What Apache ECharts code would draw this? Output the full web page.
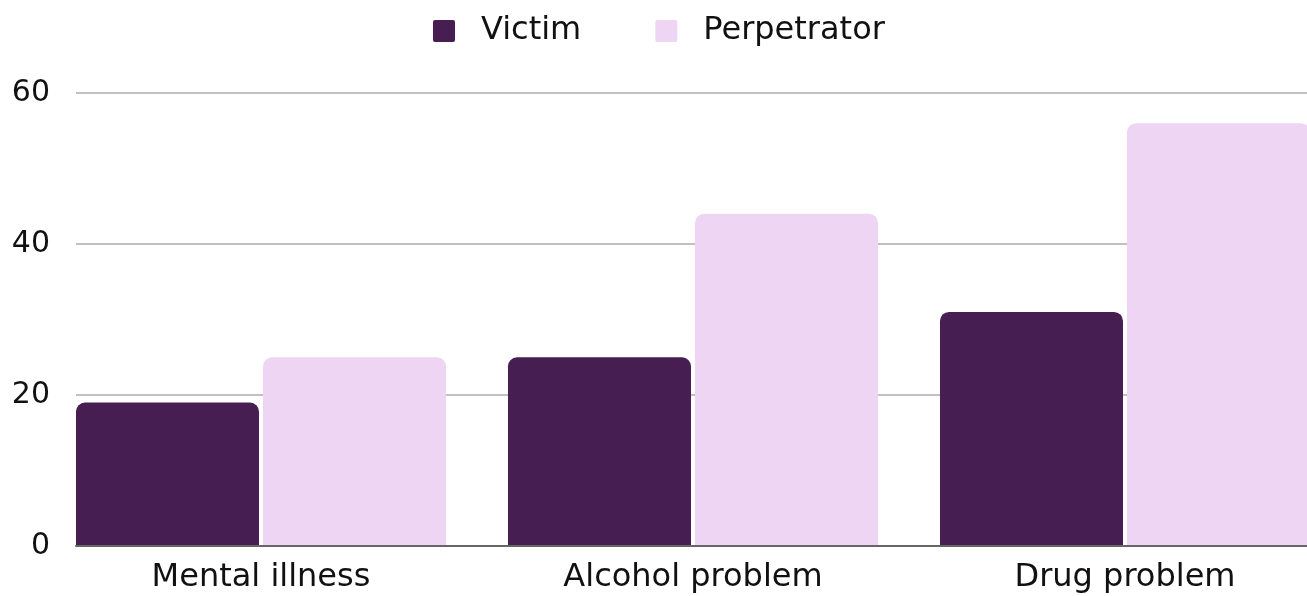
<!DOCTYPE html>
<html>
<head>
<meta charset="utf-8">
<script src="https://cdn.jsdelivr.net/npm/echarts@6/dist/echarts.min.js"></script>
<style>
html,body{margin:0;padding:0;background:#fff;overflow:hidden;width:1307px;height:596px;}
#c{width:1341px;height:596px;}
</style>
</head>
<body>
<div id="c"></div>
<script>
var categories = ['Mental illness', 'Alcohol problem', 'Drug problem'];
var victim = [19, 25, 31];
var perpetrator = [25, 44, 56];
var yTicks = [0, 20, 40, 60];

var FONT = 'DejaVu Sans';
var chart = echarts.init(document.getElementById('c'), null, {renderer: 'canvas'});
chart.setOption({
  animation: false,
  backgroundColor: '#ffffff',
  textStyle: {fontFamily: FONT},
  legend: {
    left: 428, top: 10,
    itemWidth: 22, itemHeight: 22, itemGap: 74,
    icon: 'path://M2,0H20Q22,0 22,2V20Q22,22 20,22H2Q0,22 0,20V2Q0,0 2,0Z',
    textStyle: {fontFamily: FONT, fontSize: 32, color: '#111', padding: [0, 0, 0, 21]},
    data: ['Victim', 'Perpetrator']
  },
  grid: [
    {left: 76, right: 34, top: 93, bottom: 50},
    {left: 45, right: 0, top: 93, bottom: 50}
  ],
  xAxis: [
    {gridIndex: 0, type: 'value', min: 0, max: 1, z: 10,
     axisLine: {show: true, onZero: false, lineStyle: {color: '#666666', width: 2}},
     axisTick: {show: false}, axisLabel: {show: false}, splitLine: {show: false}},
    {gridIndex: 1, type: 'category', data: categories,
     axisLine: {show: false}, axisTick: {show: false},
     axisLabel: {fontFamily: FONT, fontSize: 32, color: '#111', margin: 16}}
  ],
  yAxis: [
    {gridIndex: 0, type: 'value', min: yTicks[0], max: yTicks[yTicks.length - 1], interval: 20,
     axisLine: {show: false}, axisTick: {show: false},
     axisLabel: {fontFamily: FONT, fontSize: 30, color: '#111', margin: 26},
     splitLine: {show: true, lineStyle: {color: '#c0c0c0', width: 2}}},
    {gridIndex: 1, type: 'value', min: 0, max: 60, show: false, splitLine: {show: false}}
  ],
  series: [
    {name: 'Victim', type: 'bar', xAxisIndex: 1, yAxisIndex: 1, data: victim,
     barWidth: 183, barGap: '2.2%',
     itemStyle: {color: '#461e52', borderRadius: [9, 9, 0, 0]}},
    {name: 'Perpetrator', type: 'bar', xAxisIndex: 1, yAxisIndex: 1, data: perpetrator,
     barWidth: 183, barGap: '2.2%',
     itemStyle: {color: '#eed5f4', borderRadius: [9, 9, 0, 0]}}
  ]
});
</script>
</body>
</html>
